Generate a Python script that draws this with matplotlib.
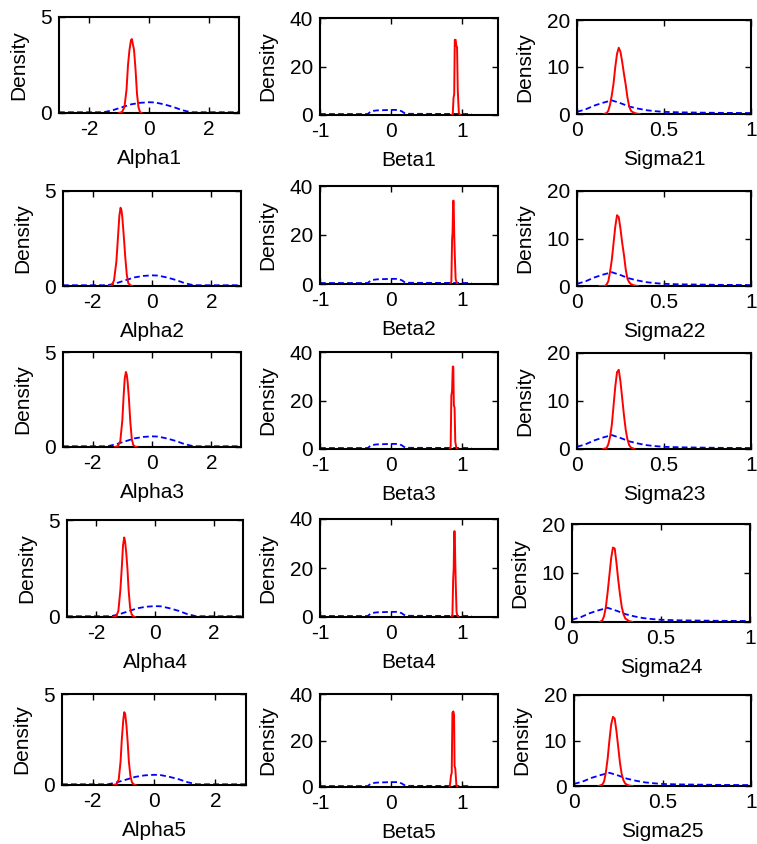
import matplotlib
matplotlib.use('Agg')
import matplotlib.pyplot as plt

plt.rcParams['font.family'] = ['Liberation Sans', 'DejaVu Sans']
plt.rcParams['font.size'] = 15

# nombres de los parametros (columnas: alpha, beta, sigma2)
alpha_names = ['Alpha1', 'Alpha2', 'Alpha3', 'Alpha4', 'Alpha5']
beta_names = ['Beta1', 'Beta2', 'Beta3', 'Beta4', 'Beta5']
sigma_names = ['Sigma21', 'Sigma22', 'Sigma23', 'Sigma24', 'Sigma25']

# densidades a priori (azul, discontinua)
alpha_prior_x = [-3, -1.5, -1.2, -0.9, -0.6, -0.3, 0, 0.2, 0.5, 0.8, 1.1, 1.4, 1.6, 3]
alpha_prior_y = [0.04, 0.04, 0.15, 0.3, 0.45, 0.53, 0.56, 0.55, 0.45, 0.32, 0.15, 0.04, 0.04, 0.04]
beta_prior_x = [-1, -0.33, -0.28, -0.2, 0, 0.1, 0.15, 0.2, 1.13]
beta_prior_y = [0.4, 0.4, 1.6, 1.9, 2.1, 2.1, 1.5, 0.5, 0.4]
sigma_prior_x = [0, 0.05, 0.1, 0.15, 0.2, 0.25, 0.3, 0.35, 0.4, 0.45, 0.5, 0.6, 0.7, 0.8, 1.0]
sigma_prior_y = [0.45, 1.0, 1.8, 2.4, 2.9, 2.3, 1.6, 1.15, 0.8, 0.6, 0.45, 0.35, 0.3, 0.25, 0.2]

# densidades a posteriori (rojo)
alpha_post_x = [
    [-1.0, -0.9, -0.82, -0.75, -0.7, -0.65, -0.6, -0.57, -0.54, -0.5, -0.45, -0.4, -0.35, -0.3, -0.25],
    [-1.45, -1.35, -1.28, -1.2, -1.15, -1.1, -1.06, -1.03, -1.0, -0.95, -0.9, -0.85, -0.8, -0.72, -0.66],
    [-1.25, -1.15, -1.07, -1.0, -0.96, -0.92, -0.88, -0.85, -0.82, -0.78, -0.73, -0.68, -0.63, -0.57, -0.5],
    [-1.42, -1.32, -1.25, -1.18, -1.13, -1.09, -1.05, -1.02, -0.98, -0.94, -0.9, -0.85, -0.8, -0.74, -0.68],
    [-1.32, -1.22, -1.15, -1.09, -1.05, -1.0, -0.97, -0.94, -0.9, -0.86, -0.82, -0.77, -0.72, -0.66, -0.6],
]
alpha_post_y = [
    [0, 0.05, 0.3, 1.2, 2.5, 3.3, 3.8, 3.85, 3.6, 3.3, 2.3, 1.0, 0.3, 0.05, 0],
    [0, 0.05, 0.3, 1.3, 2.5, 3.7, 4.12, 4.0, 3.6, 2.6, 1.5, 0.6, 0.15, 0.03, 0],
    [0, 0.05, 0.3, 1.4, 2.6, 3.6, 3.95, 3.8, 3.4, 2.6, 1.3, 0.4, 0.1, 0.02, 0],
    [0, 0.05, 0.3, 1.4, 2.6, 3.7, 4.1, 3.9, 3.3, 2.5, 1.4, 0.5, 0.15, 0.03, 0],
    [0, 0.05, 0.3, 1.3, 2.5, 3.6, 4.0, 3.9, 3.3, 2.4, 1.3, 0.5, 0.15, 0.03, 0],
]
beta_post_x = [
    [0.85, 0.865, 0.875, 0.885, 0.893, 0.905, 0.915, 0.925, 0.935, 0.95, 0.965],
    [0.83, 0.845, 0.855, 0.862, 0.87, 0.877, 0.885, 0.895, 0.905, 0.92, 0.935],
    [0.82, 0.835, 0.845, 0.855, 0.865, 0.872, 0.88, 0.89, 0.9, 0.915, 0.93],
    [0.845, 0.86, 0.87, 0.878, 0.885, 0.892, 0.9, 0.908, 0.918, 0.93, 0.945],
    [0.82, 0.83, 0.84, 0.85, 0.86, 0.873, 0.883, 0.89, 0.9, 0.915, 0.93],
]
beta_post_y = [
    [0, 0.5, 7, 8.5, 31, 31, 28.5, 28, 10, 1, 0],
    [0, 1, 18, 21, 34, 34, 20, 10, 2, 0.5, 0],
    [0, 1, 22, 24, 34, 34, 18, 17, 3, 0.5, 0],
    [0, 1, 15, 20, 35, 35, 22, 12, 2, 0.5, 0],
    [0, 2, 5, 6, 32, 32.5, 31, 9, 8, 1, 0],
]
sigma_post_x = [
    [0.155, 0.17, 0.18, 0.19, 0.2, 0.21, 0.22, 0.23, 0.24, 0.25, 0.26, 0.27, 0.28, 0.29, 0.3, 0.31, 0.32, 0.34, 0.36],
    [0.13, 0.16, 0.17, 0.18, 0.19, 0.2, 0.21, 0.22, 0.23, 0.24, 0.25, 0.26, 0.27, 0.28, 0.29, 0.3, 0.31, 0.33, 0.35],
    [0.15, 0.17, 0.18, 0.19, 0.2, 0.21, 0.22, 0.23, 0.24, 0.25, 0.26, 0.27, 0.28, 0.29, 0.3, 0.31, 0.33],
    [0.155, 0.17, 0.18, 0.19, 0.2, 0.21, 0.22, 0.23, 0.24, 0.25, 0.26, 0.27, 0.28, 0.29, 0.3, 0.32, 0.34],
    [0.14, 0.16, 0.17, 0.18, 0.19, 0.2, 0.21, 0.22, 0.23, 0.24, 0.25, 0.26, 0.27, 0.28, 0.29, 0.31, 0.33],
]
sigma_post_y = [
    [0, 0.2, 0.7, 2.0, 4.0, 6.5, 10.0, 12.8, 14.1, 13.2, 11.0, 8.5, 6.2, 3.5, 1.6, 0.7, 0.4, 0.1, 0],
    [0, 0, 0.3, 1.0, 3.0, 5.5, 9.0, 12.5, 14.9, 14.5, 12.0, 9.0, 6.5, 3.5, 1.5, 0.8, 0.4, 0.1, 0],
    [0, 0.2, 1.0, 2.5, 5.0, 9.0, 13.0, 16.0, 16.5, 14.0, 10.5, 7.0, 4.0, 2.0, 0.8, 0.3, 0],
    [0, 0.3, 1.2, 3.0, 6.0, 9.5, 13.0, 15.2, 15.0, 12.0, 8.5, 5.5, 3.0, 1.5, 0.7, 0.2, 0],
    [0, 0.3, 1.0, 3.0, 6.0, 10.0, 13.5, 15.2, 14.8, 12.0, 8.5, 5.0, 2.5, 1.2, 0.5, 0.1, 0],
]

# posicion de cada panel en pixeles (izq, arriba, der, abajo)
W, H = 757, 844
rects = [
    [(59, 17, 239, 113), (320, 18, 498, 115), (577, 20, 751, 114)],
    [(63, 191, 241, 286), (320, 186, 498, 284), (577, 191, 751, 286)],
    [(63, 352, 241, 447), (320, 352, 498, 449), (577, 353, 751, 449)],
    [(67, 520, 243, 617), (320, 519, 498, 617), (572, 524, 750, 622)],
    [(62, 694, 246, 785), (320, 694, 498, 787), (574, 695, 751, 786)],
]

# configuracion de cada columna
cols = [
    dict(names=alpha_names, px=alpha_prior_x, py=alpha_prior_y, qx=alpha_post_x, qy=alpha_post_y,
         xlim=(-3, 3), xt=[-2, 0, 2], xtl=['-2', '0', '2'], ylim=(0, 5), yt=[0, 5]),
    dict(names=beta_names, px=beta_prior_x, py=beta_prior_y, qx=beta_post_x, qy=beta_post_y,
         xlim=(-1, 1.5), xt=[-1, 0, 1], xtl=['-1', '0', '1'], ylim=(0, 40), yt=[0, 20, 40]),
    dict(names=sigma_names, px=sigma_prior_x, py=sigma_prior_y, qx=sigma_post_x, qy=sigma_post_y,
         xlim=(0, 1), xt=[0, 0.5, 1], xtl=['0', '0.5', '1'], ylim=(0, 20), yt=[0, 10, 20]),
]

fig = plt.figure(figsize=(W/100, H/100), dpi=100)

for i in range(5):
    for j in range(3):
        c = cols[j]
        l, t, r, b = rects[i][j]
        ax = fig.add_axes([l/W, 1-b/H, (r-l)/W, (b-t)/H])
        ax.plot(c['qx'][i], c['qy'][i], color='#ff0000', lw=1.4, zorder=3)
        ax.plot(c['px'], c['py'], color='#0000ff', lw=1.3, linestyle=(0, (3.2, 1.8)), zorder=2)
        ax.set_xlim(c['xlim'])
        ax.set_ylim(c['ylim'])
        ax.set_xticks(c['xt'])
        ax.set_xticklabels(c['xtl'])
        ax.set_yticks(c['yt'])
        ax.tick_params(direction='in', top=True, right=True, length=4, width=1,
                       labelsize=15, pad=5)
        for s in ax.spines.values():
            s.set_linewidth(1.5)
        ax.set_xlabel(c['names'][i], fontsize=15, labelpad=7)
        ax.set_ylabel('Density', fontsize=15, labelpad=9)

fig.savefig('out.png', dpi=100)
